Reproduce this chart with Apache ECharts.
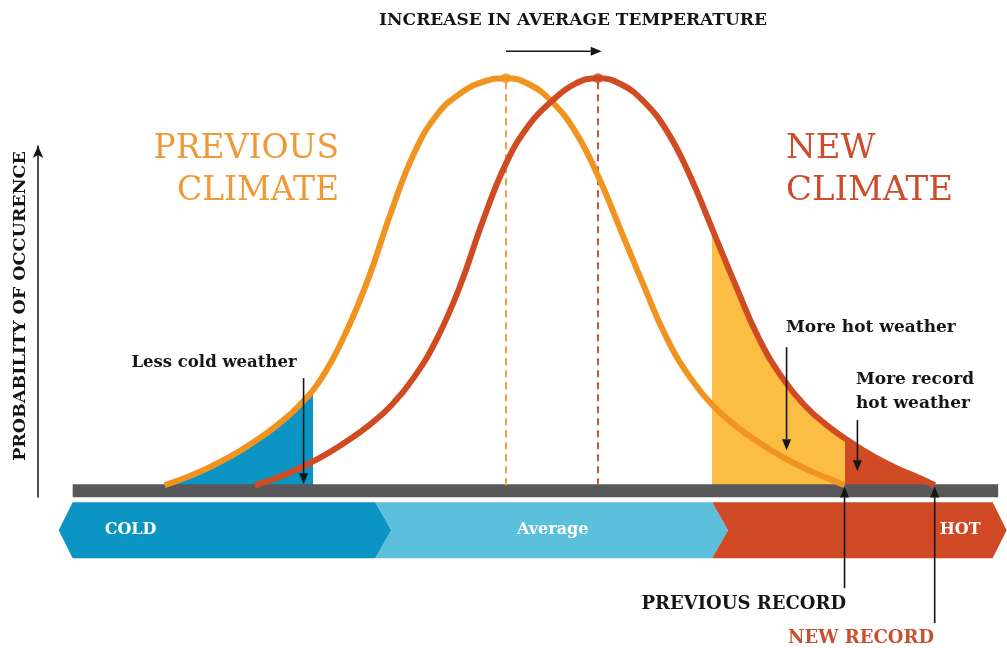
<!DOCTYPE html>
<html><head><meta charset="utf-8">
<script src="https://cdn.jsdelivr.net/npm/echarts@6/dist/echarts.min.js"></script>
<style>html,body{margin:0;padding:0;background:#fff}#c{width:1007px;height:648px}</style>
</head><body><div id="c"></div>
<script>
// Temperature in arbitrary units (0 = previous average), probability in % of the peak
const meanPrev = 0;
const meanNew = 1;
const coldThreshold = -2.10;
const hotThreshold = 2.24;
const previousRecord = 3.68;
const newRecord = 4.66;

const previousClimate = [[-3.71,0],[-3.5,1.7],[-3.25,4.1],[-3,7.0],[-2.75,10.5],[-2.5,14.5],[-2.25,19.5],[-2,26.5],[-1.75,37.0],[-1.5,50.5],[-1.25,67.0],[-1,81.5],[-0.75,91.0],[-0.5,96.2],[-0.25,99.1],[0,100],[0.25,98.5],[0.5,94.2],[0.75,87.0],[1,76.0],[1.25,62.5],[1.5,48.9],[1.75,36.0],[2,26.5],[2.25,19.5],[2.5,14.5],[2.75,10.5],[3,7.0],[3.25,4.1],[3.5,1.7],[3.68,0]];
const newClimate = [[-2.73,0],[-2.5,1.7],[-2.25,4.1],[-2,7.0],[-1.75,10.5],[-1.5,14.5],[-1.25,19.5],[-1,26.5],[-0.75,36.0],[-0.5,48.9],[-0.25,65.0],[0,79.0],[0.25,88.5],[0.5,94.4],[0.75,98.6],[1,100],[1.25,98.5],[1.5,94.2],[1.75,87.0],[2,76.0],[2.25,62.5],[2.5,48.9],[2.75,36.0],[3,26.5],[3.25,19.5],[3.5,14.5],[3.75,10.5],[4,7.0],[4.25,4.1],[4.5,1.7],[4.66,0]];

const bandNames = ['COLD', 'Average', 'HOT'];
const bandSpans = [[-4.71, -1.42], [-1.42, hotThreshold], [hotThreshold, 5.29]];
const baselineSpan = [-4.71, 5.35];

const arrowsData = [
  [-2.20, 26.3, -2.20, 0.2],
  [3.05, 33.9, 3.05, 8.6],
  [3.82, 16.0, 3.82, 3.4],
  [previousRecord, -25.3, previousRecord, -0.3],
  [newRecord, -33.9, newRecord, -0.3],
  [meanPrev, 106.6, meanNew + 0.04, 106.6]
];

const C = {
  orange: '#f1931f', red: '#d04a22', blue: '#0c95c4', avg: '#5cc0dc', hot: '#cf4a24',
  yellow: '#fbbd44', gray: '#58585b', ink: '#151515'
};
const SERIF = "'DejaVu Serif', 'Liberation Serif', serif";
const SMOOTH = 0.45;

const chart = echarts.init(document.getElementById('c'), null, {renderer: 'canvas'});

function bandItem(params, api) {
  const i = params.dataIndex;
  const p0 = api.coord([api.value(0), -4.18]);
  const p1 = api.coord([api.value(1), -17.94]);
  const x0 = p0[0], x1 = p1[0], y0 = p0[1], y1 = p1[1], m = (y0 + y1) / 2;
  const d = 16;
  const pts = i === 0
    ? [[x0,y0],[x1,y0],[x1+d,m],[x1,y1],[x0,y1],[x0-14,m]]
    : i === 2
      ? [[x0,y0],[x1,y0],[x1+14,m],[x1,y1],[x0,y1],[x0+d,m]]
      : [[x0,y0],[x1,y0],[x1+d,m],[x1,y1],[x0,y1],[x0+d,m]];
  const fill = [C.blue, C.avg, C.hot][i];
  let tx, align;
  if (i === 0) { tx = x0 + 32; align = 'left'; }
  else if (i === 1) { tx = (x0 + x1) / 2 + 9; align = 'center'; }
  else { tx = x1 - 12; align = 'right'; }
  return {type: 'group', children: [
    {type: 'polygon', shape: {points: pts}, style: {fill: fill}},
    {type: 'text', x: tx, y: m, style: {text: bandNames[i], fill: '#fff', font: "bold 16px " + SERIF, align: align, verticalAlign: 'middle'}}
  ]};
}

function arrowItem(params, api) {
  const a = api.coord([api.value(0), api.value(1)]);
  const b = api.coord([api.value(2), api.value(3)]);
  const dx = b[0]-a[0], dy = b[1]-a[1], len = Math.hypot(dx, dy), ux = dx/len, uy = dy/len;
  const hl = 11, hw = 4.5;
  const bx = b[0]-ux*hl, by = b[1]-uy*hl;
  return {type: 'group', children: [
    {type: 'line', shape: {x1: a[0], y1: a[1], x2: bx, y2: by}, style: {stroke: C.ink, lineWidth: 1.6}},
    {type: 'polygon', shape: {points: [[b[0],b[1]],[bx-uy*hw,by+ux*hw],[bx+uy*hw,by-ux*hw]]}, style: {fill: C.ink}}
  ]};
}

const option = {
  animation: false,
  backgroundColor: '#fff',
  grid: [
    {left: 0, right: 0, top: 0, bottom: 0},
    {left: 38, top: 146, width: 10, height: 351}
  ],
  xAxis: [
    {type: 'value', min: -5.5, max: 5.446, show: false, gridIndex: 0},
    {type: 'value', min: 0, max: 1, show: false, gridIndex: 1}
  ],
  yAxis: [
    {type: 'value', min: -40, max: 119.2, show: false, gridIndex: 0},
    {type: 'value', min: 0, max: 1, gridIndex: 1,
     axisLine: {show: true, symbol: ['none', 'arrow'], symbolSize: [8, 12], lineStyle: {color: C.ink, width: 1.5}},
     axisTick: {show: false}, axisLabel: {show: false}, splitLine: {show: false}}
  ],
  visualMap: [
    {type: 'piecewise', show: false, dimension: 0, seriesIndex: 0,
     pieces: [{gte: -10, lte: coldThreshold, color: C.blue}], outOfRange: {color: 'rgba(0,0,0,0)'}},
    {type: 'piecewise', show: false, dimension: 0, seriesIndex: 1,
     pieces: [{gte: hotThreshold, lt: previousRecord, color: C.yellow}, {gte: previousRecord, lte: 10, color: C.hot}],
     outOfRange: {color: 'rgba(0,0,0,0)'}}
  ],
  series: [
    {name: 'prevFill', type: 'line', data: previousClimate, smooth: SMOOTH, symbol: 'none',
     lineStyle: {width: 0}, areaStyle: {opacity: 1}, z: 1, silent: true},
    {name: 'newFill', type: 'line', data: newClimate, smooth: SMOOTH, symbol: 'none',
     lineStyle: {width: 0}, areaStyle: {opacity: 1}, z: 1, silent: true},
    {name: 'bands', type: 'custom', data: bandSpans, encode: {x: [0, 1]}, renderItem: bandItem, z: 1, silent: true},
    {name: 'baseline', type: 'line', data: baselineSpan.map(v => [v, -1.35]), symbol: 'none',
     lineStyle: {width: 13, color: C.gray, cap: 'butt'}, z: 2, silent: true},
    {name: 'prevMean', type: 'line', data: [[meanPrev, 0], [meanPrev, 100]], symbol: 'none',
     lineStyle: {width: 2, color: '#f0a040', type: [7, 5]}, z: 3, silent: true},
    {name: 'newMean', type: 'line', data: [[meanNew, 0], [meanNew, 100]], symbol: 'none',
     lineStyle: {width: 2, color: '#c9553c', type: [7, 5]}, z: 3, silent: true},
    {name: 'Previous climate', type: 'line', data: previousClimate, smooth: SMOOTH, symbol: 'none',
     lineStyle: {width: 6, color: C.orange}, z: 4, silent: true},
    {name: 'New climate', type: 'line', data: newClimate, smooth: SMOOTH, symbol: 'none',
     lineStyle: {width: 6, color: C.red}, z: 5, silent: true},
    {name: 'peaks', type: 'scatter', data: [[meanPrev, 100], [meanNew, 100]], symbolSize: 10,
     itemStyle: {color: (p) => p.dataIndex === 0 ? C.orange : C.red}, z: 6, silent: true},
    {name: 'arrows', type: 'custom', data: arrowsData, encode: {x: [0, 2], y: [1, 3]}, renderItem: arrowItem, z: 7, silent: true}
  ],
  graphic: [
    {type: 'text', x: 573, y: 21, style: {text: 'INCREASE IN AVERAGE TEMPERATURE', font: "bold 17px " + SERIF, fill: C.ink, align: 'center', verticalAlign: 'middle'}},
    {type: 'text', x: 339, y: 149, style: {text: 'PREVIOUS', font: "33px " + SERIF, fill: '#ef9a36', align: 'right', verticalAlign: 'middle'}},
    {type: 'text', x: 339, y: 191, style: {text: 'CLIMATE', font: "33px " + SERIF, fill: '#ef9a36', align: 'right', verticalAlign: 'middle'}},
    {type: 'text', x: 786, y: 149, style: {text: 'NEW', font: "34px " + SERIF, fill: '#cc4c2b', align: 'left', verticalAlign: 'middle'}},
    {type: 'text', x: 786, y: 191, style: {text: 'CLIMATE', font: "34px " + SERIF, fill: '#cc4c2b', align: 'left', verticalAlign: 'middle'}},
    {type: 'text', x: 214, y: 363, style: {text: 'Less cold weather', font: "bold 16.5px " + SERIF, fill: C.ink, align: 'center', verticalAlign: 'middle'}},
    {type: 'text', x: 786, y: 328, style: {text: 'More hot weather', font: "bold 17px " + SERIF, fill: C.ink, align: 'left', verticalAlign: 'middle'}},
    {type: 'text', x: 856, y: 380, style: {text: 'More record', font: "bold 17px " + SERIF, fill: C.ink, align: 'left', verticalAlign: 'middle'}},
    {type: 'text', x: 856, y: 404, style: {text: 'hot weather', font: "bold 17px " + SERIF, fill: C.ink, align: 'left', verticalAlign: 'middle'}},
    {type: 'text', x: 846, y: 604, style: {text: 'PREVIOUS RECORD', font: "bold 18px " + SERIF, fill: C.ink, align: 'right', verticalAlign: 'middle'}},
    {type: 'text', x: 934, y: 638, style: {text: 'NEW RECORD', font: "bold 18px " + SERIF, fill: '#c9502f', align: 'right', verticalAlign: 'middle'}},
    {type: 'text', x: 20, y: 306, rotation: Math.PI / 2, style: {text: 'PROBABILITY OF OCCURENCE', font: "bold 17.5px " + SERIF, fill: C.ink, align: 'center', verticalAlign: 'middle'}}
  ]
};
chart.setOption(option);
</script></body></html>
